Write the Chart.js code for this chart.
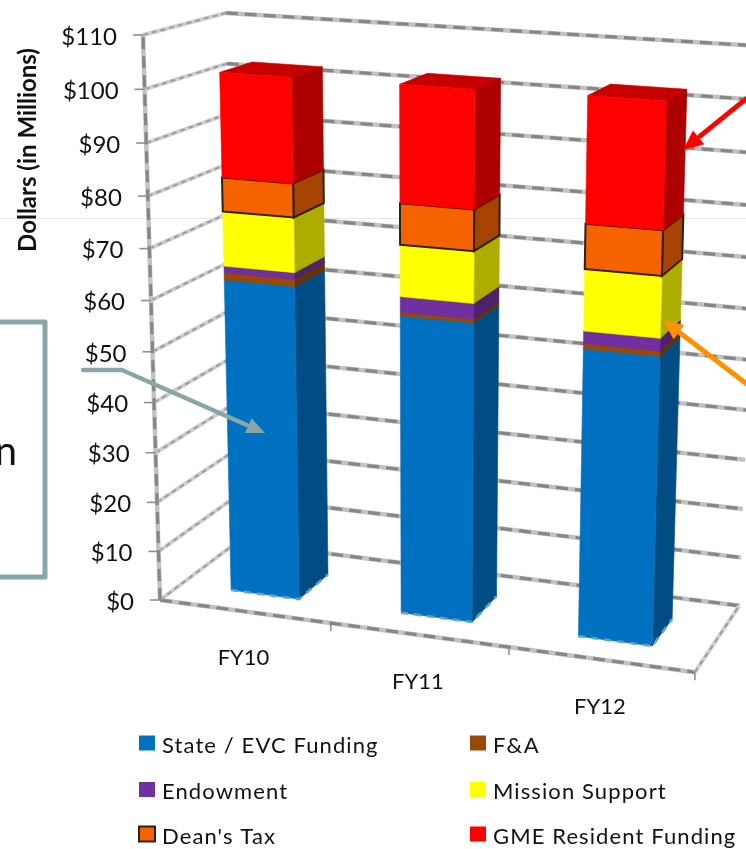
<!DOCTYPE html>
<html>
<head>
<meta charset="utf-8">
<style>
  html, body { margin: 0; padding: 0; background: #fff; }
  canvas { display: block; }
</style>
<script src="https://cdn.jsdelivr.net/npm/chart.js@4"></script>
</head>
<body>
<canvas id="myBarChart" width="746" height="849"></canvas>
<script>
// values, $ millions
var categories = ["FY10", "FY11", "FY12"];
var stateEvc = [62.8, 59.1, 56.2];
var fAndA = [1.4, 0.7, 1.0];
var endowment = [1.3, 3.0, 2.4];
var missionSupport = [10.6, 9.9, 11.6];
var deansTax = [6.5, 7.8, 8.4];
var gmeResident = [19.9, 22.1, 23.3];

var seriesNames = ["State / EVC Funding", "F&A", "Endowment", "Mission Support", "Dean's Tax", "GME Resident Funding"];
var seriesColors = ["#0070C0", "#984807", "#7030A0", "#FFFF00", "#F56200", "#FF0000"];
var seriesValues = [stateEvc, fAndA, endowment, missionSupport, deansTax, gmeResident];
var yMax = 110;
var yStep = 10;

var FONT = "Lato, 'Open Sans', sans-serif";
var TEAL = "#8aa5a8";

// camera of the 3D box: x along categories, z depth, t height (all 0..1)
function project(x, z, t) {
    var w = 1 - 0.062 * x + 0.0703 * z - 0.06 * t;
    return {
        x: (160 + 491.8 * x + 93.7 * z - 25.6 * t) / w,
        y: (600 + 30.5 * x - 19.8 * z - 567.1 * t) / w
    };
}

function shade(hex, k) {
    var n = parseInt(hex.slice(1), 16);
    var r = Math.round((n >> 16 & 255) * k);
    var g = Math.round((n >> 8 & 255) * k);
    var b = Math.round((n & 255) * k);
    return "rgb(" + r + "," + g + "," + b + ")";
}

function poly(ctx, pts) {
    ctx.beginPath();
    pts.forEach(function (p, i) {
        if (i === 0) ctx.moveTo(p.x, p.y); else ctx.lineTo(p.x, p.y);
    });
}

function roughLine(ctx, pts, light) {
    ctx.save();
    ctx.lineJoin = "round";
    poly(ctx, pts);
    ctx.strokeStyle = light ? "#cfcfcf" : "#c2c2c2";
    ctx.lineWidth = light ? 4 : 4.5;
    ctx.stroke();
    poly(ctx, pts);
    ctx.strokeStyle = light ? "#a0a0a0" : "#868686";
    ctx.lineWidth = light ? 2.2 : 3.2;
    ctx.setLineDash(light ? [5, 4] : [12, 7]);
    ctx.stroke();
    ctx.restore();
}

function drawFace(ctx, pts, fill, outline) {
    poly(ctx, pts);
    ctx.closePath();
    ctx.fillStyle = fill;
    ctx.fill();
    if (outline) {
        ctx.strokeStyle = "#2b2118";
        ctx.lineWidth = 2;
        ctx.stroke();
    } else {
        ctx.strokeStyle = fill;
        ctx.lineWidth = 0.6;
        ctx.stroke();
    }
}

function arrow(ctx, pts, color, width, head) {
    var a = pts[pts.length - 2], b = pts[pts.length - 1];
    var ang = Math.atan2(b.y - a.y, b.x - a.x);
    var neck = { x: b.x - Math.cos(ang) * head, y: b.y - Math.sin(ang) * head };
    ctx.save();
    ctx.strokeStyle = color;
    ctx.fillStyle = color;
    ctx.lineWidth = width;
    ctx.lineCap = "round";
    ctx.lineJoin = "round";
    poly(ctx, pts.slice(0, -1).concat([neck]));
    ctx.stroke();
    ctx.beginPath();
    ctx.moveTo(b.x, b.y);
    ctx.lineTo(b.x - Math.cos(ang - 0.42) * head, b.y - Math.sin(ang - 0.42) * head);
    ctx.lineTo(b.x - Math.cos(ang + 0.42) * head, b.y - Math.sin(ang + 0.42) * head);
    ctx.closePath();
    ctx.fill();
    ctx.restore();
}

var perspectiveBars = {
    id: "perspectiveBars",
    beforeDatasetsDraw: function (chart) {
        var ctx = chart.ctx;
        var xs = chart.scales.x;
        var ys = chart.scales.y;
        var normX = function (px) { return (px - xs.left) / xs.width; };
        var normT = function (py) { return (ys.bottom - py) / ys.height; };
        var z1 = 0.27, z2 = 0.68;

        ctx.save();

        // faint seam across the slide
        ctx.strokeStyle = "#e6e6e6";
        ctx.lineWidth = 1;
        ctx.beginPath();
        ctx.moveTo(0, 218.5);
        ctx.lineTo(746, 218.5);
        ctx.stroke();

        // walls, floor, axis
        ys.ticks.forEach(function (tick, i) {
            var t = normT(ys.getPixelForTick(i));
            roughLine(ctx, [project(0, 0, t), project(0, 1, t)], true);
            roughLine(ctx, [project(0, 1, t), project(1, 1, t)], false);
        });
        roughLine(ctx, [project(0, 0, 0), project(1, 0, 0)], false);
        roughLine(ctx, [project(1, 0, 0), project(1, 1, 0)], true);
        roughLine(ctx, [project(0, 0, 0), project(0, 0, 1)], false);

        // y ticks and labels
        ctx.fillStyle = "#111";
        ctx.font = "24px " + FONT;
        ctx.textAlign = "right";
        ctx.textBaseline = "middle";
        ys.ticks.forEach(function (tick, i) {
            var p = project(0, 0, normT(ys.getPixelForTick(i)));
            ctx.strokeStyle = "#8e8e8e";
            ctx.lineWidth = 1.6;
            ctx.beginPath();
            ctx.moveTo(p.x - 10, p.y);
            ctx.lineTo(p.x, p.y);
            ctx.stroke();
            ctx.fillText(tick.label, p.x - 26, p.y + 2);
        });

        // category ticks and labels
        categories.forEach(function (name, i) {
            var foot = project((i + 1) / categories.length, 0, 0);
            ctx.strokeStyle = "#8e8e8e";
            ctx.lineWidth = 1.6;
            ctx.beginPath();
            ctx.moveTo(foot.x, foot.y);
            ctx.lineTo(foot.x, foot.y + 8);
            ctx.stroke();
            var c = project(normX(xs.getPixelForTick(i)), 0, 0);
            ctx.fillStyle = "#111";
            ctx.font = "22px " + FONT;
            ctx.textAlign = "center";
            ctx.fillText(name, c.x - 1, c.y + 47);
        });

        // bars: take each stack segment from the library's own elements
        categories.forEach(function (name, c) {
            chart.data.datasets.forEach(function (ds, d) {
                var bar = chart.getDatasetMeta(d).data[c];
                var x1 = normX(bar.x - bar.width / 2), x2 = normX(bar.x + bar.width / 2);
                var t1 = normT(bar.base), t2 = normT(bar.y);
                var col = ds.backgroundColor;
                var outlined = ds.borderWidth > 0;
                drawFace(ctx, [project(x1, z1, t2), project(x1, z2, t2), project(x2, z2, t2), project(x2, z1, t2)], shade(col, 0.78), false);
                drawFace(ctx, [project(x2, z1, t1), project(x2, z2, t1), project(x2, z2, t2), project(x2, z1, t2)], shade(col, 0.68), outlined);
                drawFace(ctx, [project(x1, z1, t1), project(x2, z1, t1), project(x2, z1, t2), project(x1, z1, t2)], col, outlined);
                if (d === 0) {
                    // blotchy light fringe along the foot of the bar
                    ctx.save();
                    poly(ctx, [project(x1, z1, t1), project(x2, z1, t1), project(x2, z2, t1)]);
                    ctx.strokeStyle = "#5f9fd6";
                    ctx.lineWidth = 2.5;
                    ctx.setLineDash([7, 6]);
                    ctx.stroke();
                    ctx.restore();
                }
            });
        });

        ctx.restore();
        return false;
    },
    afterDraw: function (chart) {
        var ctx = chart.ctx;
        ctx.save();

        // y axis title
        ctx.save();
        ctx.translate(28, 150);
        ctx.rotate(-Math.PI / 2);
        ctx.fillStyle = "#111";
        ctx.font = "bold 24px " + FONT;
        ctx.textAlign = "center";
        ctx.textBaseline = "middle";
        ctx.fillText("Dollars (in Millions)", 0, 0);
        ctx.restore();

        // legend, two columns across then down
        var colX = [139, 470];
        var rowY = [743.5, 790, 834.5];
        ctx.font = "22px " + FONT;
        ctx.letterSpacing = "1.1px";
        ctx.textAlign = "left";
        ctx.textBaseline = "middle";
        chart.data.datasets.forEach(function (ds, i) {
            var lx = colX[i % 2], ly = rowY[Math.floor(i / 2)];
            ctx.fillStyle = ds.backgroundColor;
            ctx.fillRect(lx, ly - 8, 16, 15);
            if (ds.borderWidth > 0) {
                ctx.strokeStyle = "#2b2118";
                ctx.lineWidth = 2;
                ctx.strokeRect(lx, ly - 8, 16, 15);
            }
            ctx.fillStyle = "#111";
            ctx.fillText(ds.label, lx + 23, ly + 2);
        });
        ctx.letterSpacing = "0px";

        // callout box cut off by the left edge
        ctx.strokeStyle = TEAL;
        ctx.lineWidth = 5;
        ctx.lineJoin = "round";
        ctx.beginPath();
        ctx.moveTo(-5, 322);
        ctx.lineTo(45, 322);
        ctx.lineTo(45, 577);
        ctx.lineTo(-5, 577);
        ctx.stroke();
        ctx.fillStyle = "#111";
        ctx.font = "40px " + FONT;
        ctx.textAlign = "right";
        ctx.textBaseline = "alphabetic";
        ctx.fillText("n", 17, 465);

        // callout arrows
        arrow(ctx, [{ x: 83, y: 370 }, { x: 122, y: 370 }, { x: 265, y: 433 }], TEAL, 4.5, 20);
        arrow(ctx, [{ x: 752, y: 94 }, { x: 683, y: 150 }], "#ff0000", 5, 22);
        arrow(ctx, [{ x: 752, y: 388 }, { x: 663, y: 320 }], "#ff9000", 5, 22);

        ctx.restore();
    }
};

var ctx = document.getElementById("myBarChart").getContext("2d");
var myBarChart = new Chart(ctx, {
    type: "bar",
    data: {
        labels: categories,
        datasets: seriesNames.map(function (name, i) {
            return {
                label: name,
                data: seriesValues[i],
                backgroundColor: seriesColors[i],
                borderWidth: name === "Dean's Tax" ? 2 : 0,
                barPercentage: 0.405,
                categoryPercentage: 1
            };
        })
    },
    options: {
        responsive: false,
        animation: false,
        layout: { padding: 0 },
        plugins: { legend: { display: false }, tooltip: { enabled: false } },
        scales: {
            x: { stacked: true, display: false },
            y: {
                stacked: true,
                display: false,
                min: 0,
                max: yMax,
                ticks: {
                    stepSize: yStep,
                    callback: function (v) { return "$" + v; }
                }
            }
        }
    },
    plugins: [perspectiveBars]
});
</script>
</body>
</html>
